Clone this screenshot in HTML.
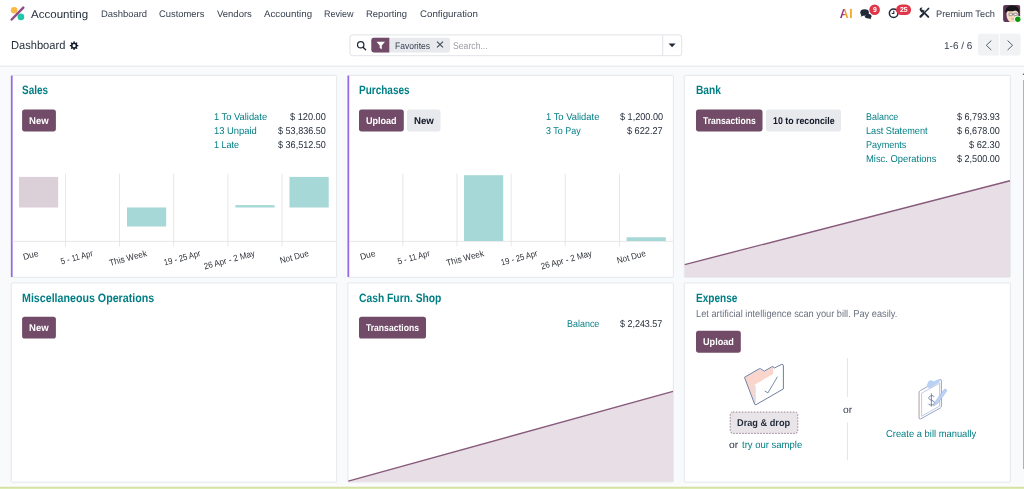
<!DOCTYPE html>
<html lang="en"><head><meta charset="utf-8"><title>Odoo - Accounting Dashboard</title>
<style>
*{box-sizing:border-box;margin:0;padding:0}
html,body{width:1024px;height:489px;overflow:hidden;background:#f9fafb;font-family:"Liberation Sans",sans-serif}
body{position:relative}
svg.bg{position:absolute;left:0;top:0;overflow:visible}
.t{position:absolute;white-space:nowrap;line-height:1;transform-origin:0 50%;display:block}
.lb{position:absolute;white-space:nowrap;line-height:1;font-size:8.9px;color:#2e3238;transform-origin:100% 50%;display:block}

</style></head>
<body>
<svg class="bg" width="1024" height="489" viewBox="0 0 1024 489">
<rect x="0" y="0" width="1024" height="65.9" fill="#fff"/>
<rect x="0" y="65.7" width="1024" height="0.9" fill="#e3e5e9"/>
<rect x="11.3" y="75.4" width="325.3" height="201.9" fill="#fff" rx="0.8" stroke="#dfe2e6" stroke-width="0.8"/>
<rect x="347.9" y="75.4" width="325.5" height="201.9" fill="#fff" rx="0.8" stroke="#dfe2e6" stroke-width="0.8"/>
<rect x="684.3" y="75.4" width="326.1" height="201.9" fill="#fff" rx="0.8" stroke="#dfe2e6" stroke-width="0.8"/>
<rect x="11.3" y="282.9" width="325.3" height="199.2" fill="#fff" rx="0.8" stroke="#dfe2e6" stroke-width="0.8"/>
<rect x="347.9" y="282.9" width="325.5" height="199.2" fill="#fff" rx="0.8" stroke="#dfe2e6" stroke-width="0.8"/>
<rect x="684.3" y="282.9" width="326.1" height="199.2" fill="#fff" rx="0.8" stroke="#dfe2e6" stroke-width="0.8"/>
<rect x="10.9" y="75.6" width="1.7" height="201.4" fill="#9568e6"/>
<rect x="347.5" y="75.6" width="1.7" height="201.4" fill="#9568e6"/>
<rect x="22.1" y="109.5" width="33.8" height="21.9" fill="#714B67" rx="2.6"/>
<rect x="359" y="109.5" width="44.8" height="21.9" fill="#714B67" rx="2.6"/>
<rect x="407" y="109.5" width="33.5" height="21.9" fill="#e7e9ed" rx="2.6"/>
<rect x="696" y="109.5" width="66.5" height="21.9" fill="#714B67" rx="2.6"/>
<rect x="766" y="109.5" width="75" height="21.9" fill="#e7e9ed" rx="2.6"/>
<rect x="22.1" y="316.7" width="33.8" height="21.9" fill="#714B67" rx="2.6"/>
<rect x="359" y="316.7" width="67" height="21.9" fill="#714B67" rx="2.6"/>
<rect x="696" y="330.8" width="44.8" height="21.9" fill="#714B67" rx="2.6"/>
<rect x="12.6" y="240.9" width="323.6" height="0.8" fill="#e2e2e2"/>
<rect x="65.1" y="173.8" width="0.8" height="72.6" fill="#e2e2e2"/>
<rect x="119.2" y="173.8" width="0.8" height="72.6" fill="#e2e2e2"/>
<rect x="173.3" y="173.8" width="0.8" height="72.6" fill="#e2e2e2"/>
<rect x="227.5" y="173.8" width="0.8" height="72.6" fill="#e2e2e2"/>
<rect x="281.6" y="173.8" width="0.8" height="72.6" fill="#e2e2e2"/>
<rect x="19" y="176.9" width="39.2" height="30.6" fill="#dbd0d8"/>
<rect x="127" y="207.5" width="39.2" height="19" fill="#a5d8d6"/>
<rect x="235.4" y="205.1" width="39.2" height="2.4" fill="#a5d8d6"/>
<rect x="289.5" y="176.9" width="39.2" height="30.6" fill="#a5d8d6"/>
<rect x="349.2" y="240.9" width="323.8" height="0.8" fill="#e2e2e2"/>
<rect x="402.5" y="173.8" width="0.8" height="72.6" fill="#e2e2e2"/>
<rect x="456.6" y="173.8" width="0.8" height="72.6" fill="#e2e2e2"/>
<rect x="510.7" y="173.8" width="0.8" height="72.6" fill="#e2e2e2"/>
<rect x="564.8" y="173.8" width="0.8" height="72.6" fill="#e2e2e2"/>
<rect x="619" y="173.8" width="0.8" height="72.6" fill="#e2e2e2"/>
<rect x="464" y="175.2" width="39.2" height="65.8" fill="#a5d8d6"/>
<rect x="626.6" y="237.3" width="39.2" height="3.7" fill="#a5d8d6"/>
<path d="M684.7 264.6L1010 180.7V276.9H684.7z" fill="#e8dfe6"/>
<path d="M684.7 264.6L1010 180.7" fill="none" stroke="#875a7b" stroke-width="1.4"/>
<path d="M348.3 481.2L673 391.3V481.7H348.3z" fill="#e8dfe6"/>
<path d="M348.3 481.2L673 391.3" fill="none" stroke="#875a7b" stroke-width="1.4"/>
<rect x="847" y="358" width="0.8" height="38.8" fill="#dcdfe4"/>
<rect x="847" y="422.4" width="0.8" height="37.8" fill="#dcdfe4"/>
<rect x="730.2" y="412" width="67.6" height="21.4" fill="#e9e4e8" rx="2.6" stroke="#8a6f85" stroke-width="0.8" stroke-dasharray="1.6 1.4"/>
<rect x="349.9" y="34.9" width="331.8" height="20.8" fill="#fff" rx="2.6" stroke="#d8dbe0" stroke-width="0.8"/>
<rect x="662.4" y="35.2" width="0.8" height="20.2" fill="#d8dbe0"/>
<path d="M668.6 43.4h7l-3.5 3.8z" fill="#1f2937"/>
<circle cx="360.7" cy="44.7" r="3.2" fill="none" stroke="#1f2937" stroke-width="1.25"/>
<path d="M363.1 47.2L365.6 49.7" fill="none" stroke="#1f2937" stroke-width="1.4" stroke-linecap="round"/>
<rect x="371.3" y="37.8" width="78.7" height="14.7" fill="#e7e9ed" rx="2.4"/>
<path d="M373.7 37.8H389.3V52.5H373.7a2.4 2.4 0 0 1-2.4-2.4V40.2a2.4 2.4 0 0 1 2.4-2.4z" fill="#714B67"/>
<path d="M376.5 41.8h8.5l-3.2 3.6v3.9l-2.1-1.3v-2.6z" fill="#fff"/>
<path d="M437 41.7l6 5.6M443 41.7l-6 5.6" fill="none" stroke="#374151" stroke-width="1.05"/>
<path d="M980.4 33.8H998.8V55.6H980.4a2.5 2.5 0 0 1-2.5-2.5V36.3a2.5 2.5 0 0 1 2.5-2.5z" fill="#f1f2f4"/>
<path d="M999.8 33.8H1018.1a2.5 2.5 0 0 1 2.5 2.5V53.1a2.5 2.5 0 0 1-2.5 2.5H999.8z" fill="#f1f2f4"/>
<path d="M991.3 40.6L986.3 45.3l5 4.7" fill="none" stroke="#4b5563" stroke-width="0.95"/>
<path d="M1007.6 40.6L1012.6 45.3l-5 4.7" fill="none" stroke="#4b5563" stroke-width="0.95"/>
<rect x="0" y="484.6" width="1024" height="2.6" fill="#fdfdfd"/>
<rect x="0" y="486.9" width="1024" height="2.1" fill="#dcebb0"/>
<rect x="0" y="486.8" width="1024" height="0.7" fill="#cbd9a4"/>
<rect x="1023.2" y="80" width="0.8" height="389" fill="#a0a0a0"/>
<rect x="1022.9" y="73.6" width="1.1" height="1.3" fill="#5a5a5a"/>
<circle cx="14.2" cy="10.2" r="3.3" fill="#fbb945"/>
<circle cx="20.9" cy="16.9" r="3.3" fill="#1fc8a9"/>
<path d="M11.7 19.5L23.3 7.6" stroke="#924b87" stroke-width="2.5" stroke-linecap="round"/>
<path d="M77.28 44.97L78.41 45.07L78.41 46.23L77.28 46.33L76.83 47.41L77.56 48.29L76.74 49.11L75.86 48.38L74.78 48.83L74.68 49.96L73.52 49.96L73.42 48.83L72.34 48.38L71.46 49.11L70.64 48.29L71.37 47.41L70.92 46.33L69.79 46.23L69.79 45.07L70.92 44.97L71.37 43.89L70.64 43.01L71.46 42.19L72.34 42.92L73.42 42.47L73.52 41.34L74.68 41.34L74.78 42.47L75.86 42.92L76.74 42.19L77.56 43.01L76.83 43.89ZM75.65 45.65A1.55 1.55 0 1 0 72.55 45.65A1.55 1.55 0 1 0 75.65 45.65Z" fill="#111827" fill-rule="evenodd"/>
<defs><linearGradient id="aig" x1="0" y1="0" x2="1" y2="0"><stop offset="0" stop-color="#7b2d8e"/><stop offset="0.3" stop-color="#a43c82"/><stop offset="0.43" stop-color="#f0a020"/><stop offset="1" stop-color="#f7a823"/></linearGradient></defs>
<text x="839.7 849.2" y="17.5" font-family="Liberation Sans, sans-serif" font-size="12.2" font-weight="700" fill="url(#aig)">AI</text>
<path d="M867.3 13.9c2.1-.4 4.2.7 4.3 2.3 0 .7-.4 1.3-1 1.8.1.5.4.9.8 1.2-1 0-1.8-.3-2.3-.7-2.2.3-4-.6-4.5-1.9z" fill="#1f2937"/>
<ellipse cx="864.6" cy="12.5" rx="4.3" ry="3.2" fill="#1f2937"/>
<path d="M861.6 14.2l-.9 2.6 3.2-1.5z" fill="#1f2937"/>
<circle cx="874.6" cy="9.8" r="5.3" fill="#e0364a"/>
<circle cx="893.6" cy="13.3" r="4.25" fill="none" stroke="#1f2937" stroke-width="1.5"/>
<path d="M893.8 10.7V13.5H891.7" fill="none" stroke="#1f2937" stroke-width="1.1"/>
<rect x="896.1" y="4.5" width="15" height="10.6" rx="5.3" fill="#e0364a"/>
<g stroke="#1f2937" stroke-linecap="round" fill="none"><path d="M921.6 10.2L928.3 16.9" stroke-width="1.9"/><path d="M927.9 9.2L924.8 12.3" stroke-width="1.4"/><path d="M923.4 13.7L920.5 16.6" stroke-width="2.2"/></g>
<path d="M919.5 9.7a2.4 2.4 0 0 1 3.1-2l-1.5 1.5.4 1.3 1.3.4 1.5-1.5a2.4 2.4 0 0 1-2.9 3z" fill="#1f2937"/>
<path d="M927.3 8.6l1.6-1 .6.6-1 1.6z" fill="#1f2937"/>
<defs><clipPath id="avc"><rect x="1003.1" y="4.9" width="17.2" height="17.1" rx="2.2"/></clipPath></defs>
<g clip-path="url(#avc)"><rect x="1003" y="4.8" width="17.5" height="17.5" fill="#5d3657"/><path d="M1006.6 12.5c-.5 3.5.6 7.5 3.2 9.5h5.5c2.4-2 3.3-5.5 2.9-9.3-.4-3.8-11-4.2-11.6-.2z" fill="#f6dcc3"/><path d="M1005.6 13.4c-1-4.2 1.5-7.3 5.7-7.8 3.8-.4 7.4 1.2 7.6 4.5.1 1.3-.2 2.4-.7 3.1-.3-1.5-1.3-2.5-2.7-2.8-2.5.9-5.3 1.1-7.6.7-1 .6-1.7 1.4-2.3 2.3z" fill="#17141a"/><rect x="1008.9" y="13.1" width="3.6" height="2.6" rx=".7" fill="#e8e4e2" stroke="#6a6368" stroke-width=".6"/><rect x="1013.7" y="13.1" width="3.6" height="2.6" rx=".7" fill="#e8e4e2" stroke="#6a6368" stroke-width=".6"/><path d="M1012.5 14.2h1.2" stroke="#6a6368" stroke-width=".6"/><path d="M1011.5 18.6c.9.6 2.2.6 3.1 0" stroke="#a5705f" stroke-width=".6" fill="none"/></g>
<circle cx="1017.8" cy="19.3" r="3.5" fill="#fff"/>
<circle cx="1017.8" cy="19.3" r="2.7" fill="#0a9a0a"/>
<path d="M745 377.5L759.5 369.3L764.2 371.9L773 366.8L773.5 373.9L754.8 384.7L755 403.5Z" fill="#f9d5cb"/>
<path d="M754.9 384.7L773.4 374L773.8 368.7L782.8 364.9L783 388.8L755.8 404.4Z" fill="#fff"/>
<path d="M755.1 385.5V403.5" stroke="#cfdcf5" stroke-width="1.2"/>
<path d="M744.5 377.3L759.2 368.8Q760 368.4 760.8 368.9L764.2 371.2L772.8 366.3L774.2 368.1L781.5 364.4Q783.3 363.9 783.4 366V388.9L756 404.7Q755 405.1 754.6 404Z" fill="none" stroke="#5f6e96" stroke-width=".9" stroke-linejoin="round"/>
<path d="M764.7 391L767.9 392.9L777.5 376.7" fill="none" stroke="#5f6e96" stroke-width=".8"/>
<path d="M920.3 390.6L939.8 379.7Q941.3 379.1 941.4 380.8V406.2Q941.4 407.3 940.4 407.9L920.8 418.9Q919.2 419.5 919.1 417.8V392.6Q919.1 391.3 920.3 390.6Z" fill="#fff" stroke="#8b97c2" stroke-width=".9"/>
<path d="M919.2 392.5V417.8" stroke="#f2c1ae" stroke-width="1"/>
<path d="M921.6 393.2L939.6 383.2V406L921.6 416.3Z" fill="#fff" stroke="#a7b2d6" stroke-width=".7"/>
<path d="M926.7 385.3L927.6 383.6A3.2 3.2 0 0 1 933.4 381.6L939.1 378.9L939.7 381.9L929.7 388.6L927 386.9Z" fill="#b9d1f2"/>
<path d="M934.3 396.8C933.3 394.9 928.6 395.5 928.8 398.2C929 400.7 934.3 399.7 934.4 402.7C934.5 405.3 929.6 405.9 928.2 403.7M931.4 393.4V406.6" fill="none" stroke="#66739f" stroke-width=".85"/>
<path d="M933.4 406.1L935.4 401.5L943.8 389.9Q945.4 388.4 946.3 389.7Q946.9 390.8 946 392L937.3 403.8Z" fill="#bcd3f3" stroke="#93abe0" stroke-width=".55" stroke-linejoin="round"/>
</svg>
<span class="t" id="t0" style="left:31.45px;top:9px;font-size:11.2px;font-weight:400;color:#1f2937;transform:rotate(0.03deg) scaleX(1.0314);">Accounting</span>
<span class="t" id="t1" style="left:101.20px;top:9px;font-size:9.5px;font-weight:400;color:#374151;transform:rotate(0.03deg) scaleX(0.9917);">Dashboard</span>
<span class="t" id="t2" style="left:159.45px;top:9px;font-size:9.5px;font-weight:400;color:#374151;transform:rotate(0.03deg) scaleX(0.9872);">Customers</span>
<span class="t" id="t3" style="left:216.95px;top:9px;font-size:9.5px;font-weight:400;color:#374151;transform:rotate(0.03deg) scaleX(0.9993);">Vendors</span>
<span class="t" id="t4" style="left:263.70px;top:9px;font-size:9.5px;font-weight:400;color:#374151;transform:rotate(0.03deg) scaleX(1.0231);">Accounting</span>
<span class="t" id="t5" style="left:324.45px;top:9px;font-size:9.5px;font-weight:400;color:#374151;transform:rotate(0.03deg) scaleX(0.9501);">Review</span>
<span class="t" id="t6" style="left:366.45px;top:9px;font-size:9.5px;font-weight:400;color:#374151;transform:rotate(0.03deg) scaleX(0.9975);">Reporting</span>
<span class="t" id="t7" style="left:420.20px;top:9px;font-size:9.5px;font-weight:400;color:#374151;transform:rotate(0.03deg) scaleX(1.0236);">Configuration</span>
<span class="t" id="t8" style="left:936.45px;top:9px;font-size:9.5px;font-weight:400;color:#374151;transform:rotate(0.03deg) scaleX(0.9728);">Premium Tech</span>
<span class="t" id="t9" style="left:10.75px;top:39px;font-size:11.6px;font-weight:400;color:#1f2937;transform:rotate(0.03deg) scaleX(0.9574);">Dashboard</span>
<span class="t" id="t10" style="left:394.70px;top:42px;font-size:9.3px;font-weight:400;color:#374151;transform:rotate(0.03deg) scaleX(0.9167);">Favorites</span>
<span class="t" id="t11" style="left:452.85px;top:41px;font-size:9.8px;font-weight:400;color:#9a9ca5;transform:rotate(0.03deg) scaleX(0.8848);">Search...</span>
<span class="t" id="t12" style="left:944.45px;top:41px;font-size:10px;font-weight:400;color:#374151;transform:rotate(0.03deg) scaleX(0.9997);">1-6 / 6</span>
<span class="t" id="t13" style="left:21.95px;top:84px;font-size:12.1px;font-weight:700;color:#017e84;transform:rotate(0.03deg) scaleX(0.8241);">Sales</span>
<span class="t" id="t14" style="left:359.20px;top:84px;font-size:12.1px;font-weight:700;color:#017e84;transform:rotate(0.03deg) scaleX(0.8278);">Purchases</span>
<span class="t" id="t15" style="left:695.95px;top:84px;font-size:12.1px;font-weight:700;color:#017e84;transform:rotate(0.03deg) scaleX(0.8418);">Bank</span>
<span class="t" id="t16" style="left:21.95px;top:292px;font-size:12.1px;font-weight:700;color:#017e84;transform:rotate(0.03deg) scaleX(0.8817);">Miscellaneous Operations</span>
<span class="t" id="t17" style="left:358.95px;top:292px;font-size:12.1px;font-weight:700;color:#017e84;transform:rotate(0.03deg) scaleX(0.8517);">Cash Furn. Shop</span>
<span class="t" id="t18" style="left:695.95px;top:292px;font-size:12.1px;font-weight:700;color:#017e84;transform:rotate(0.03deg) scaleX(0.8322);">Expense</span>
<span class="t" id="t19" style="left:29.20px;top:116px;font-size:9.8px;font-weight:700;color:#fff;transform:rotate(0.03deg) scaleX(0.9749);">New</span>
<span class="t" id="t20" style="left:366.20px;top:116px;font-size:9.8px;font-weight:700;color:#fff;transform:rotate(0.03deg) scaleX(0.9231);">Upload</span>
<span class="t" id="t21" style="left:413.95px;top:116px;font-size:9.8px;font-weight:700;color:#111827;transform:rotate(0.03deg) scaleX(0.9873);">New</span>
<span class="t" id="t22" style="left:702.95px;top:116px;font-size:9.8px;font-weight:700;color:#fff;transform:rotate(0.03deg) scaleX(0.8711);">Transactions</span>
<span class="t" id="t23" style="left:772.70px;top:116px;font-size:9.8px;font-weight:700;color:#111827;transform:rotate(0.03deg) scaleX(0.8986);">10 to reconcile</span>
<span class="t" id="t24" style="left:29.20px;top:323px;font-size:9.8px;font-weight:700;color:#fff;transform:rotate(0.03deg) scaleX(0.9749);">New</span>
<span class="t" id="t25" style="left:366.20px;top:323px;font-size:9.8px;font-weight:700;color:#fff;transform:rotate(0.03deg) scaleX(0.8753);">Transactions</span>
<span class="t" id="t26" style="left:702.95px;top:337px;font-size:9.8px;font-weight:700;color:#fff;transform:rotate(0.03deg) scaleX(0.9306);">Upload</span>
<span class="t" id="t27" style="left:214.45px;top:112px;font-size:9.9px;font-weight:400;color:#017e84;transform:rotate(0.03deg) scaleX(0.9451);">1 To Validate</span>
<span class="t" id="t28" style="left:214.45px;top:126px;font-size:9.9px;font-weight:400;color:#017e84;transform:rotate(0.03deg) scaleX(0.9516);">13 Unpaid</span>
<span class="t" id="t29" style="left:214.45px;top:140px;font-size:9.9px;font-weight:400;color:#017e84;transform:rotate(0.03deg) scaleX(0.9138);">1 Late</span>
<span class="t" id="t30" style="left:546.20px;top:112px;font-size:9.9px;font-weight:400;color:#017e84;transform:rotate(0.03deg) scaleX(0.9495);">1 To Validate</span>
<span class="t" id="t31" style="left:546.20px;top:126px;font-size:9.9px;font-weight:400;color:#017e84;transform:rotate(0.03deg) scaleX(0.9046);">3 To Pay</span>
<span class="t" id="t32" style="left:866.20px;top:112px;font-size:9.9px;font-weight:400;color:#017e84;transform:rotate(0.03deg) scaleX(0.9065);">Balance</span>
<span class="t" id="t33" style="left:866.20px;top:126px;font-size:9.9px;font-weight:400;color:#017e84;transform:rotate(0.03deg) scaleX(0.9274);">Last Statement</span>
<span class="t" id="t34" style="left:866.20px;top:140px;font-size:9.9px;font-weight:400;color:#017e84;transform:rotate(0.03deg) scaleX(0.9187);">Payments</span>
<span class="t" id="t35" style="left:866.20px;top:154px;font-size:9.9px;font-weight:400;color:#017e84;transform:rotate(0.03deg) scaleX(0.9495);">Misc. Operations</span>
<span class="t" id="t36" style="left:566.85px;top:319px;font-size:9.9px;font-weight:400;color:#017e84;transform:rotate(0.03deg) scaleX(0.9065);">Balance</span>
<span class="t" id="t37" style="left:290.20px;top:112px;font-size:9.9px;font-weight:400;color:#1f2937;transform:rotate(0.03deg) scaleX(0.9323);">$ 120.00</span>
<span class="t" id="t38" style="left:278.20px;top:126px;font-size:9.9px;font-weight:400;color:#1f2937;transform:rotate(0.03deg) scaleX(0.9172);">$ 53,836.50</span>
<span class="t" id="t39" style="left:278.20px;top:140px;font-size:9.9px;font-weight:400;color:#1f2937;transform:rotate(0.03deg) scaleX(0.9172);">$ 36,512.50</span>
<span class="t" id="t40" style="left:619.95px;top:112px;font-size:9.9px;font-weight:400;color:#1f2937;transform:rotate(0.03deg) scaleX(0.9232);">$ 1,200.00</span>
<span class="t" id="t41" style="left:627.45px;top:126px;font-size:9.9px;font-weight:400;color:#1f2937;transform:rotate(0.03deg) scaleX(0.9258);">$ 622.27</span>
<span class="t" id="t42" style="left:956.95px;top:112px;font-size:9.9px;font-weight:400;color:#1f2937;transform:rotate(0.03deg) scaleX(0.9178);">$ 6,793.93</span>
<span class="t" id="t43" style="left:956.95px;top:126px;font-size:9.9px;font-weight:400;color:#1f2937;transform:rotate(0.03deg) scaleX(0.9178);">$ 6,678.00</span>
<span class="t" id="t44" style="left:968.95px;top:140px;font-size:9.9px;font-weight:400;color:#1f2937;transform:rotate(0.03deg) scaleX(0.9362);">$ 62.30</span>
<span class="t" id="t45" style="left:956.95px;top:154px;font-size:9.9px;font-weight:400;color:#1f2937;transform:rotate(0.03deg) scaleX(0.9178);">$ 2,500.00</span>
<span class="t" id="t46" style="left:620.15px;top:319px;font-size:9.9px;font-weight:400;color:#1f2937;transform:rotate(0.03deg) scaleX(0.9060);">$ 2,243.57</span>
<span class="t" id="t47" style="left:695.70px;top:309px;font-size:10.1px;font-weight:400;color:#6b7280;transform:rotate(0.03deg) scaleX(0.9163);">Let artificial intelligence scan your bill. Pay easily.</span>
<span class="t" id="t48" style="left:737.20px;top:418px;font-size:9.8px;font-weight:700;color:#1f2937;transform:rotate(0.03deg) scaleX(0.9398);">Drag &amp; drop</span>
<span class="t" id="t49" style="left:728.85px;top:440px;font-size:10px;font-weight:400;color:#1f2937;transform:rotate(0.03deg) scaleX(1.0330);">or</span>
<span class="t" id="t50" style="left:741.65px;top:440px;font-size:10px;font-weight:400;color:#017e84;transform:rotate(0.03deg) scaleX(0.9501);">try our sample</span>
<span class="t" id="t51" style="left:842.95px;top:405px;font-size:10px;font-weight:400;color:#374151;transform:rotate(0.03deg) scaleX(1.0330);">or</span>
<span class="t" id="t52" style="left:886.05px;top:429px;font-size:10px;font-weight:400;color:#017e84;transform:rotate(0.03deg) scaleX(0.9379);">Create a bill manually</span>
<span class="t" id="t53" style="left:872.90px;top:6px;font-size:7.2px;font-weight:700;color:#fff;transform:rotate(0.03deg) scaleX(0.9500);">9</span>
<span class="t" id="t54" style="left:900.00px;top:6px;font-size:7.2px;font-weight:700;color:#fff;transform:rotate(0.03deg) scaleX(0.9625);">25</span>
<span class="lb" id="l0" style="right:985.50px;top:249.40px;transform:rotate(-15deg) scaleX(0.9520);">Due</span>
<span class="lb" id="l1" style="right:931.40px;top:249.40px;transform:rotate(-15deg) scaleX(0.8724);">5 - 11 Apr</span>
<span class="lb" id="l2" style="right:877.30px;top:249.40px;transform:rotate(-15deg) scaleX(0.9218);">This Week</span>
<span class="lb" id="l3" style="right:823.20px;top:249.40px;transform:rotate(-15deg) scaleX(0.8636);">19 - 25 Apr</span>
<span class="lb" id="l4" style="right:769.10px;top:249.40px;transform:rotate(-15deg) scaleX(0.9096);">26 Apr - 2 May</span>
<span class="lb" id="l5" style="right:715.00px;top:249.40px;transform:rotate(-15deg) scaleX(0.9060);">Not Due</span>
<span class="lb" id="l6" style="right:648.50px;top:249.40px;transform:rotate(-15deg) scaleX(0.9520);">Due</span>
<span class="lb" id="l7" style="right:594.40px;top:249.40px;transform:rotate(-15deg) scaleX(0.8724);">5 - 11 Apr</span>
<span class="lb" id="l8" style="right:540.40px;top:249.40px;transform:rotate(-15deg) scaleX(0.9218);">This Week</span>
<span class="lb" id="l9" style="right:486.30px;top:249.40px;transform:rotate(-15deg) scaleX(0.8636);">19 - 25 Apr</span>
<span class="lb" id="l10" style="right:432.20px;top:249.40px;transform:rotate(-15deg) scaleX(0.9096);">26 Apr - 2 May</span>
<span class="lb" id="l11" style="right:378.10px;top:249.40px;transform:rotate(-15deg) scaleX(0.9060);">Not Due</span>
</body></html>
